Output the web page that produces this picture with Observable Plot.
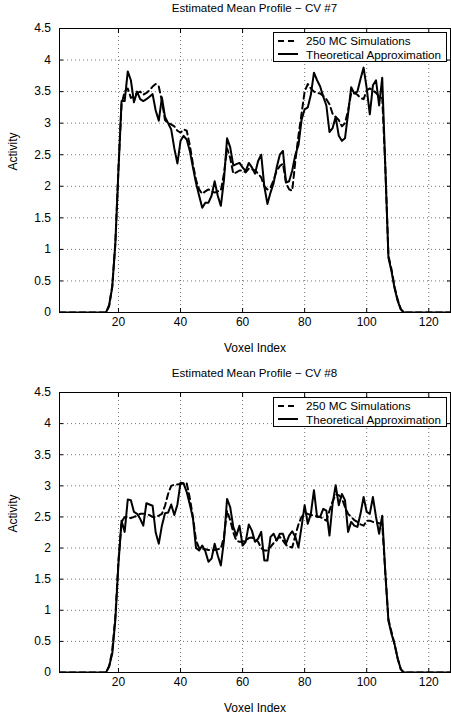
<!DOCTYPE html>
<html>
<head>
<meta charset="utf-8">
<script src="https://cdn.jsdelivr.net/npm/d3@7"></script>
<script src="https://cdn.jsdelivr.net/npm/@observablehq/plot@0.6"></script>
<style>
  body { margin: 0; background: #fff; font-family: "Liberation Sans", Arial, sans-serif; color: #000; }
  #wrap { position: relative; width: 451px; height: 722px; overflow: hidden; }
  .title { position: absolute; left: 59px; width: 391px; text-align: center; font-size: 11.6px; line-height: 15px; white-space: nowrap; }
  .panel { position: absolute; left: 0; }
  .legend { position: absolute; box-sizing: border-box; border: 1px solid #000; background: #fff; font-size: 11.7px; padding: 1px 0 0 4px; }
  .legend .row { display: flex; align-items: center; height: 13.5px; white-space: nowrap; }
  .legend svg { margin-right: 8px; }
</style>
</head>
<body>
<div id="wrap"></div>
<script>
// ---------------- data ----------------
const voxels = d3.range(1, 129);
const xTicks = [20, 40, 60, 80, 100, 120];
const yTicks = [0, 0.5, 1, 1.5, 2, 2.5, 3, 3.5, 4, 4.5];
const seriesNames = ["250 MC Simulations", "Theoretical Approximation"];
const titles = ["Estimated Mean Profile \u2212 CV #7", "Estimated Mean Profile \u2212 CV #8"];
const xLabel = "Voxel Index";
const yLabel = "Activity";

const zerosHead = [0,0,0,0,0,0,0,0,0,0,0,0,0,0,0,0];            // voxels 1-16
const zerosTail = [0,0,0,0,0,0,0,0,0,0,0,0,0,0,0,0,0];          // voxels 112-128

// CV #7 (voxels 17..111)
const cv7Theory = [...zerosHead,
  0.12,0.4,1.1,2.25,3.35,3.35,3.82,3.68,3.33,3.5,3.38,3.35,3.38,3.42,3.46,3.2,3.04,3.41,3.1,3.0,
  2.9,2.6,2.36,2.72,2.8,2.74,2.56,2.3,2.05,1.85,1.66,1.74,1.74,1.85,2.08,1.85,1.69,2.1,2.76,2.62,
  2.33,2.35,2.37,2.3,2.24,2.37,2.3,2.2,2.4,2.5,2.0,1.72,1.9,2.05,2.3,2.5,2.56,2.06,2.08,2.25,
  2.5,2.65,3.05,3.22,3.25,3.45,3.8,3.68,3.58,3.42,3.28,2.86,2.92,3.1,2.8,2.72,2.76,3.15,3.57,3.47,
  3.5,3.7,3.88,3.55,3.14,3.6,3.68,3.28,3.72,2.3,0.87,0.65,0.38,0.18,0.05,
  ...zerosTail];
const cv7MC = [...zerosHead,
  0.1,0.42,1.1,2.3,3.3,3.5,3.55,3.4,3.42,3.48,3.5,3.45,3.48,3.52,3.58,3.62,3.58,3.35,3.05,3.0,
  2.98,2.95,2.88,2.85,2.9,2.88,2.65,2.35,2.1,1.95,1.88,1.92,1.95,1.92,1.9,1.92,1.93,2.2,2.6,2.45,
  2.2,2.22,2.25,2.25,2.22,2.28,2.27,2.25,2.2,2.14,2.0,1.95,1.98,2.1,2.25,2.32,2.36,2.05,1.95,1.93,
  2.4,2.8,3.15,3.5,3.62,3.55,3.5,3.48,3.47,3.43,3.38,3.3,3.15,3.1,3.05,2.95,3.0,3.2,3.48,3.48,
  3.45,3.4,3.38,3.52,3.55,3.52,3.48,3.42,3.4,2.3,0.9,0.68,0.4,0.2,0.05,
  ...zerosTail];

// CV #8 (voxels 17..111)
const cv8Theory = [...zerosHead,
  0.1,0.3,0.85,1.75,2.44,2.26,2.78,2.77,2.58,2.55,2.47,2.36,2.72,2.7,2.68,2.25,2.07,2.36,2.56,2.57,
  2.7,2.53,2.7,3.05,3.04,2.9,2.7,2.48,2.0,1.96,2.04,1.95,1.78,1.83,2.07,1.88,1.72,2.12,2.79,2.66,
  2.34,2.2,2.36,2.04,2.1,2.38,2.28,2.1,2.15,2.26,1.8,1.8,2.18,2.23,2.12,2.23,2.23,2.07,2.2,2.27,
  2.18,2.01,2.34,2.69,2.39,2.55,2.93,2.5,2.5,2.63,2.6,2.2,2.71,3.01,2.69,2.87,2.77,2.26,2.42,2.36,
  2.34,2.55,2.82,2.58,2.55,2.82,2.5,2.23,2.52,1.6,0.83,0.62,0.45,0.22,0.05,
  ...zerosTail];
const cv8MC = [...zerosHead,
  0.1,0.35,0.9,1.8,2.42,2.5,2.5,2.48,2.5,2.52,2.55,2.55,2.55,2.53,2.5,2.5,2.52,2.55,2.68,2.87,
  3.0,3.02,3.02,3.03,3.04,3.04,2.8,2.5,2.12,2.0,1.99,1.98,1.97,1.96,1.97,1.98,1.99,2.18,2.6,2.45,
  2.25,2.12,2.1,2.1,2.12,2.16,2.17,2.14,2.1,2.0,1.96,1.96,2.02,2.08,2.14,2.18,2.12,2.05,2.02,2.01,
  2.2,2.38,2.5,2.55,2.55,2.53,2.52,2.51,2.5,2.47,2.44,2.6,2.75,2.86,2.85,2.8,2.66,2.55,2.5,2.45,
  2.42,2.38,2.36,2.44,2.44,2.42,2.41,2.4,2.39,1.6,0.85,0.65,0.45,0.22,0.05,
  ...zerosTail];

// ---------------- drawing ----------------
const wrap = document.getElementById("wrap");
const panels = [
  {title: titles[0], mc: cv7MC, th: cv7Theory, titleTop: 0, svgTop: 15, height: 345, mt: 13, mb: 48, legendTop: 32},
  {title: titles[1], mc: cv8MC, th: cv8Theory, titleTop: 365, svgTop: 380, height: 342, mt: 12, mb: 50, legendTop: 397}
];
const dash = "6,4";

for (const p of panels) {
  const t = document.createElement("div");
  t.className = "title";
  t.style.top = p.titleTop + "px";
  t.textContent = p.title;
  wrap.appendChild(t);

  const mcData = voxels.map((v, i) => ({voxel: v, value: p.mc[i]}));
  const thData = voxels.map((v, i) => ({voxel: v, value: p.th[i]}));
  const gridStyle = {stroke: "#000", strokeOpacity: 0.55, strokeDasharray: "1,3"};

  const chart = Plot.plot({
    width: 451,
    height: p.height,
    marginLeft: 59,
    marginRight: 1,
    marginTop: p.mt,
    marginBottom: p.mb,
    style: {fontFamily: "'Liberation Sans', Arial, sans-serif", fontSize: "12px", color: "#000", background: "#fff"},
    x: {domain: [1, 127]},
    y: {domain: [0, 4.5]},
    marks: [
      Plot.gridX(xTicks, gridStyle),
      Plot.gridY(yTicks.slice(1), gridStyle),
      Plot.line(mcData, {x: "voxel", y: "value", stroke: "#000", strokeWidth: 2, strokeDasharray: dash, clip: true}),
      Plot.line(thData, {x: "voxel", y: "value", stroke: "#000", strokeWidth: 2, clip: true}),
      Plot.frame({stroke: "#000"}),
      Plot.axisX(xTicks, {anchor: "bottom", tickSize: -4, tickPadding: 9, label: null, fontSize: 12}),
      Plot.axisX(xTicks, {anchor: "top", tickSize: -4, tickFormat: () => "", label: null}),
      Plot.axisY(yTicks, {anchor: "left", tickSize: -4, tickPadding: 12.5, tickFormat: d => String(d), label: null, fontSize: 12}),
      Plot.axisY(yTicks, {anchor: "right", tickSize: -4, tickFormat: () => "", label: null}),
      Plot.text([xLabel], {text: d => d, frameAnchor: "bottom", dy: 36, lineAnchor: "middle", fontSize: 12}),
      Plot.text([yLabel], {text: d => d, frameAnchor: "left", dx: -46, rotate: -90, lineAnchor: "middle", fontSize: 12})
    ]
  });
  chart.classList.add("panel");
  chart.style.top = p.svgTop + "px";
  wrap.appendChild(chart);

  const lg = document.createElement("div");
  lg.className = "legend";
  lg.style.left = "273px";
  lg.style.top = p.legendTop + "px";
  lg.style.width = "174px";
  lg.style.height = "30px";
  const styles = [dash, null];
  seriesNames.forEach((name, i) => {
    const row = document.createElement("div");
    row.className = "row";
    const s = d3.create("svg").attr("width", 20).attr("height", 6);
    s.append("line").attr("x1", 0).attr("x2", 20).attr("y1", 3).attr("y2", 3)
      .attr("stroke", "#000").attr("stroke-width", 2)
      .attr("stroke-dasharray", styles[i]);
    row.appendChild(s.node());
    const span = document.createElement("span");
    span.textContent = name;
    row.appendChild(span);
    lg.appendChild(row);
  });
  wrap.appendChild(lg);
}
</script>
</body>
</html>
